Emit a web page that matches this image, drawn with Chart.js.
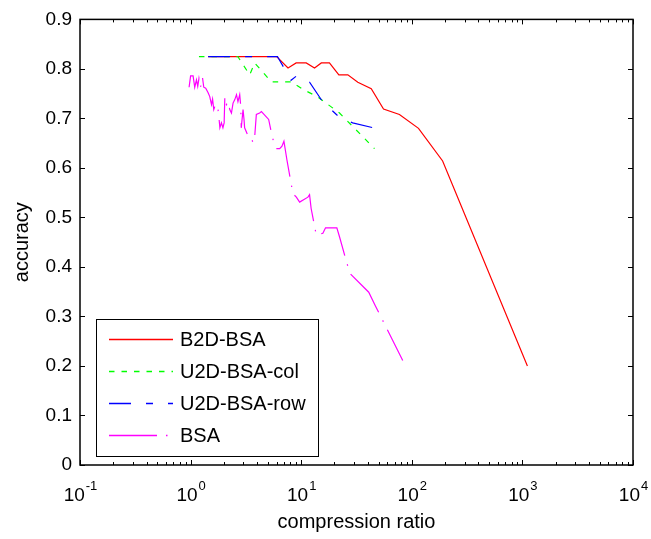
<!DOCTYPE html>
<html><head><meta charset="utf-8">
<script src="https://cdn.jsdelivr.net/npm/chart.js@4/dist/chart.umd.min.js"></script>
<style>html,body{margin:0;padding:0;background:#fff}#wrap{width:651px;height:539px;position:relative}</style>
</head><body><div id="wrap"><canvas id="c"></canvas></div>
<script>
const seriesNames = ['B2D-BSA','U2D-BSA-col','U2D-BSA-row','BSA'];
const b2dX = [1.44, 6.0, 7.6, 9.0, 11.1, 13.2, 15.2, 18.0, 21.9, 26.4, 32.5, 43, 55.5, 77.3, 115, 190, 1110];
const b2dY = [0.825,0.825,0.802,0.812,0.812,0.802,0.812,0.812,0.788,0.788,0.773,0.760,0.719,0.708,0.680,0.614,0.200];
const colX = [1.19, 2.67, 3.42, 3.8, 5.37, 8.1, 10.5, 14.0, 22.2, 46];
const colY = [0.825,0.825,0.788,0.812,0.774,0.774,0.758,0.744,0.711,0.639];
const rowX = [1.44, 6.1, 8.1, 9.1, 11.9, 15.6, 22.2, 29.2, 47];
const rowY = [0.825,0.825,0.777,0.786,0.773,0.734,0.702,0.691,0.680];
const bsaX = [0.969,1.0,1.053,1.09,1.13,1.16,1.19,1.23,1.28,1.315,1.37,1.44,1.49,1.545,1.58,1.62,1.68,1.71,1.77,1.81,1.84,1.90,1.96,2.01,2.04,2.11,2.18,2.26,2.34,2.42,2.51,2.60,2.68,2.78,2.84,2.87,2.90,2.98,3.04,3.08,3.26,3.49,3.66,3.80,3.93,4.21,4.37,5.08,5.30,5.49,5.76,5.96,6.39,6.70,6.98,7.43,8.42,9.04,9.68,11.5,11.9,12.3,13.7,15.7,16.6,21.0,22.2,24.7,27.0,27.8,40.8,46.9,54.0,82.8];
const bsaY = [0.763,0.786,0.786,0.763,0.778,0.765,0.781,0.763,0.783,0.763,0.761,0.752,0.744,0.728,0.739,0.718,0.728,0.718,0.718,0.698,0.681,0.691,0.681,0.691,0.744,0.728,0.734,0.718,0.711,0.731,0.738,0.748,0.734,0.748,0.725,0.681,0.691,0.718,0.698,0.681,0.668,0.666,0.651,0.664,0.708,0.711,0.714,0.698,0.678,0.661,0.648,0.639,0.639,0.644,0.654,0.616,0.548,0.541,0.531,0.541,0.546,0.518,0.464,0.468,0.479,0.479,0.461,0.424,0.394,0.386,0.349,0.321,0.294,0.211];
const xTickValues = [0.1, 1, 10, 100, 1000, 10000];
const xTickExponents = ['-1','0','1','2','3','4'];
const yTickValues = [0,0.1,0.2,0.3,0.4,0.5,0.6,0.7,0.8,0.9];
const yTickLabels = ['0','0.1','0.2','0.3','0.4','0.5','0.6','0.7','0.8','0.9'];
const xTitle = 'compression ratio';
const yTitle = 'accuracy';

const FONT = '"Liberation Sans", Arial, sans-serif';
const pts = (xs, ys) => xs.map((x, i) => ({x: x, y: ys[i]}));

const datasets = [
  {label: seriesNames[0], data: pts(b2dX, b2dY), borderColor: '#ff0000', borderDash: [], order: 4},
  {label: seriesNames[1], data: pts(colX, colY), borderColor: '#00ff00', borderDash: [5.5, 7], order: 3},
  {label: seriesNames[2], data: pts(rowX, rowY), borderColor: '#0000ff', borderDash: [22, 15, 7, 15], order: 2},
  {label: seriesNames[3], data: pts(bsaX, bsaY), borderColor: '#ff00ff', borderDash: [48, 9, 1.5, 9], order: 1}
].map(d => Object.assign(d, {borderWidth: 1.2, pointRadius: 0, tension: 0, fill: false}));

const framePlugin = {
  id: 'frame',
  afterDraw(chart) {
    const ctx = chart.ctx, ca = chart.chartArea, xs = chart.scales.x, ys = chart.scales.y;
    ctx.save();
    ctx.strokeStyle = '#000'; ctx.lineWidth = 1; ctx.setLineDash([]);
    ctx.beginPath();
    yTickValues.forEach(v => {
      const p = Math.round(ys.getPixelForValue(v)) + 0.5;
      ctx.moveTo(ca.left, p); ctx.lineTo(ca.left + 5, p);
      ctx.moveTo(ca.right, p); ctx.lineTo(ca.right - 5, p);
    });
    xTickValues.forEach((v, i) => {
      const p = Math.round(xs.getPixelForValue(v)) + 0.5;
      ctx.moveTo(p, ca.bottom); ctx.lineTo(p, ca.bottom - 5);
      ctx.moveTo(p, ca.top); ctx.lineTo(p, ca.top + 5);
      if (i < xTickValues.length - 1) {
        for (let m = 2; m <= 9; m++) {
          const q = Math.round(xs.getPixelForValue(v * m)) + 0.5;
          ctx.moveTo(q, ca.bottom); ctx.lineTo(q, ca.bottom - 3);
          ctx.moveTo(q, ca.top); ctx.lineTo(q, ca.top + 3);
        }
      }
    });
    ctx.stroke();
    ctx.lineWidth = 1.5;
    ctx.strokeRect(ca.left, ca.top, ca.right - ca.left, ca.bottom - ca.top);

    ctx.fillStyle = '#000';
    ctx.textBaseline = 'alphabetic';
    ctx.textAlign = 'left';
    xTickValues.forEach((v, i) => {
      const p = xs.getPixelForValue(v);
      ctx.font = '19px ' + FONT;
      const w1 = ctx.measureText('10').width;
      ctx.font = '13px ' + FONT;
      const w2 = ctx.measureText(xTickExponents[i]).width;
      const start = p - (w1 + w2) / 2;
      ctx.font = '19px ' + FONT;
      ctx.fillText('10', start, ca.bottom + 36);
      ctx.font = '13px ' + FONT;
      ctx.fillText(xTickExponents[i], start + w1 + 1, ca.bottom + 25);
    });
    ctx.font = '20px ' + FONT;
    ctx.textAlign = 'center'; ctx.textBaseline = 'middle';
    ctx.fillText(xTitle, (ca.left + ca.right) / 2, 522);
    ctx.save();
    ctx.translate(22, (ca.top + ca.bottom) / 2);
    ctx.rotate(-Math.PI / 2);
    ctx.fillText(yTitle, 0, 0);
    ctx.restore();

    const bx = 96, by = 319, bw = 222, bh = 137;
    ctx.fillStyle = '#fff';
    ctx.fillRect(bx, by, bw, bh);
    ctx.lineWidth = 1;
    ctx.strokeStyle = '#000';
    ctx.strokeRect(bx + 0.5, by + 0.5, bw, bh);
    chart.data.datasets.forEach((ds, i) => {
      const y = 339 + i * 32;
      ctx.strokeStyle = ds.borderColor;
      ctx.lineWidth = 1.3;
      ctx.setLineDash(ds.borderDash || []);
      ctx.beginPath();
      ctx.moveTo(109, y + 0.5); ctx.lineTo(173, y + 0.5);
      ctx.stroke();
      ctx.setLineDash([]);
      ctx.fillStyle = '#000';
      ctx.font = '20px ' + FONT;
      ctx.textAlign = 'left'; ctx.textBaseline = 'middle';
      ctx.fillText(ds.label, 180, y + 1);
    });
    ctx.restore();
  }
};

new Chart(document.getElementById('c'), {
  type: 'line',
  data: {datasets: datasets},
  options: {
    responsive: true, maintainAspectRatio: false, animation: false,
    layout: {padding: {top: 16, right: 18, left: 0, bottom: 0}},
    plugins: {legend: {display: false}, tooltip: {enabled: false}},
    scales: {
      x: {
        type: 'logarithmic', min: 0.1, max: 10000,
        grid: {display: false}, border: {display: false},
        ticks: {display: false},
        afterBuildTicks: s => { s.ticks = xTickValues.map(v => ({value: v})); },
        afterFit: s => { s.height = 74; }
      },
      y: {
        type: 'linear', min: 0, max: 0.9,
        grid: {display: false, drawTicks: false}, border: {display: false},
        ticks: {
          color: '#000', padding: 8, font: {family: FONT, size: 19},
          callback: (v, i) => yTickLabels[i]
        },
        afterBuildTicks: s => { s.ticks = yTickValues.map(v => ({value: v})); },
        afterFit: s => { s.width = 80; }
      }
    }
  },
  plugins: [framePlugin]
});
</script>
</body></html>
